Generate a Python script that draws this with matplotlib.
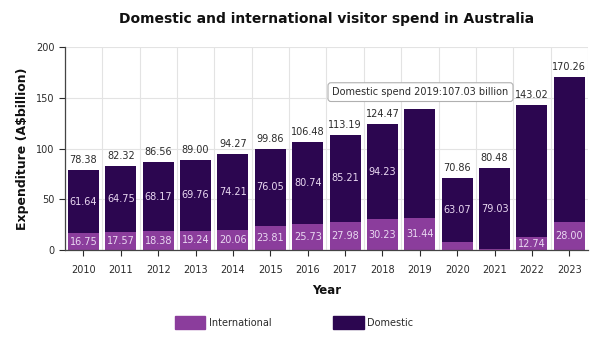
import numpy as np
import matplotlib
matplotlib.use("Agg")
from matplotlib import pyplot as plt
from matplotlib.patches import Patch

years = ["2010", "2011", "2012", "2013", "2014", "2015", "2016",
         "2017", "2018", "2019", "2020", "2021", "2022", "2023"]
international = [16.75, 17.57, 18.38, 19.24, 20.06, 23.81, 25.73,
                 27.98, 30.23, 31.44, 7.79, 1.45, 12.74, 28.00]
domestic = [61.64, 64.75, 68.17, 69.76, 74.21, 76.05, 80.74,
            85.21, 94.23, 107.03, 63.07, 79.03, 130.28, 142.26]
totals = [78.38, 82.32, 86.56, 89.00, 94.27, 99.86, 106.48,
          113.19, 124.47, 138.47, 70.86, 80.48, 143.02, 170.26]

# which segment labels get drawn
show_domestic = [True] * 9 + [False, True, True, False, False]
show_international = [True] * 10 + [False, False, True, True]

col_intl = "#8b3d9c"
col_dom = "#2c0650"
text_in = "#ead9f2"
text_out = "#2b2b2b"

plt.rcParams["font.family"] = "DejaVu Sans"

fig = plt.figure(figsize=(6.0, 3.45), dpi=100)
ax = fig.add_axes([0.108, 0.275, 0.872, 0.589])

x = np.arange(len(years))
width = 0.83
ax.bar(x, international, width, color=col_intl, zorder=2)
ax.bar(x, domestic, width, bottom=international, color=col_dom, zorder=2)

for i in range(len(years)):
    if show_international[i]:
        ax.text(x[i], international[i] / 2, f"{international[i]:.2f}",
                ha="center", va="center", fontsize=7, color=text_in, zorder=3)
    if show_domestic[i]:
        ax.text(x[i], international[i] + domestic[i] / 2, f"{domestic[i]:.2f}",
                ha="center", va="center", fontsize=7, color=text_in, zorder=3)
    ax.text(x[i], totals[i] + 5, f"{totals[i]:.2f}",
            ha="center", va="bottom", fontsize=7, color=text_out, zorder=3)

# hover box for 2019, sits on top of that year's total label
ax.text(6.66, 155.5, "Domestic spend 2019:107.03 billion",
        ha="left", va="center", fontsize=7, color=text_out, zorder=5,
        bbox=dict(boxstyle="round,pad=0.45,rounding_size=0.3",
                  fc="white", ec="#b0b0b0", lw=0.8))

ax.set_xlim(-0.5, len(years) - 0.5)
ax.set_ylim(0, 200)
ax.set_xticks(x)
ax.set_xticklabels(years)
ax.set_yticks([0, 50, 100, 150, 200])
ax.set_xticks(np.arange(-0.5, len(years)), minor=True)
ax.tick_params(axis="x", which="minor", length=0)
ax.tick_params(axis="both", which="major", labelsize=7, colors=text_out,
               length=4, width=0.8)
ax.tick_params(axis="x", which="major", pad=7)
ax.grid(True, which="minor", axis="x", color="#e3e3e3", lw=0.8, zorder=0)
ax.grid(True, which="major", axis="y", color="#e3e3e3", lw=0.8, zorder=0)
ax.set_axisbelow(True)

for side in ["top", "right"]:
    ax.spines[side].set_visible(False)
for side in ["left", "bottom"]:
    ax.spines[side].set_color("#444444")
    ax.spines[side].set_linewidth(0.9)

ax.set_title("Domestic and international visitor spend in Australia",
             fontsize=10, fontweight="bold", color="#111111", pad=17)
ax.set_xlabel("Year", fontsize=8.5, fontweight="bold", color="#111111", labelpad=6)
ax.set_ylabel("Expenditure (A$billion)", fontsize=9, fontweight="bold",
              color="#111111", labelpad=5)

handles = [Patch(facecolor=col_intl, edgecolor=col_intl),
           Patch(facecolor=col_dom, edgecolor=col_dom)]
fig.legend(handles, ["International", "Domestic"], loc="center",
           bbox_to_anchor=(0.49, 0.065), ncol=2, frameon=False,
           fontsize=7, handlelength=3.1, handleheight=1.55,
           columnspacing=6.4, handletextpad=0.35, labelcolor=text_out)

fig.savefig("out.png", dpi=100, facecolor="white")
